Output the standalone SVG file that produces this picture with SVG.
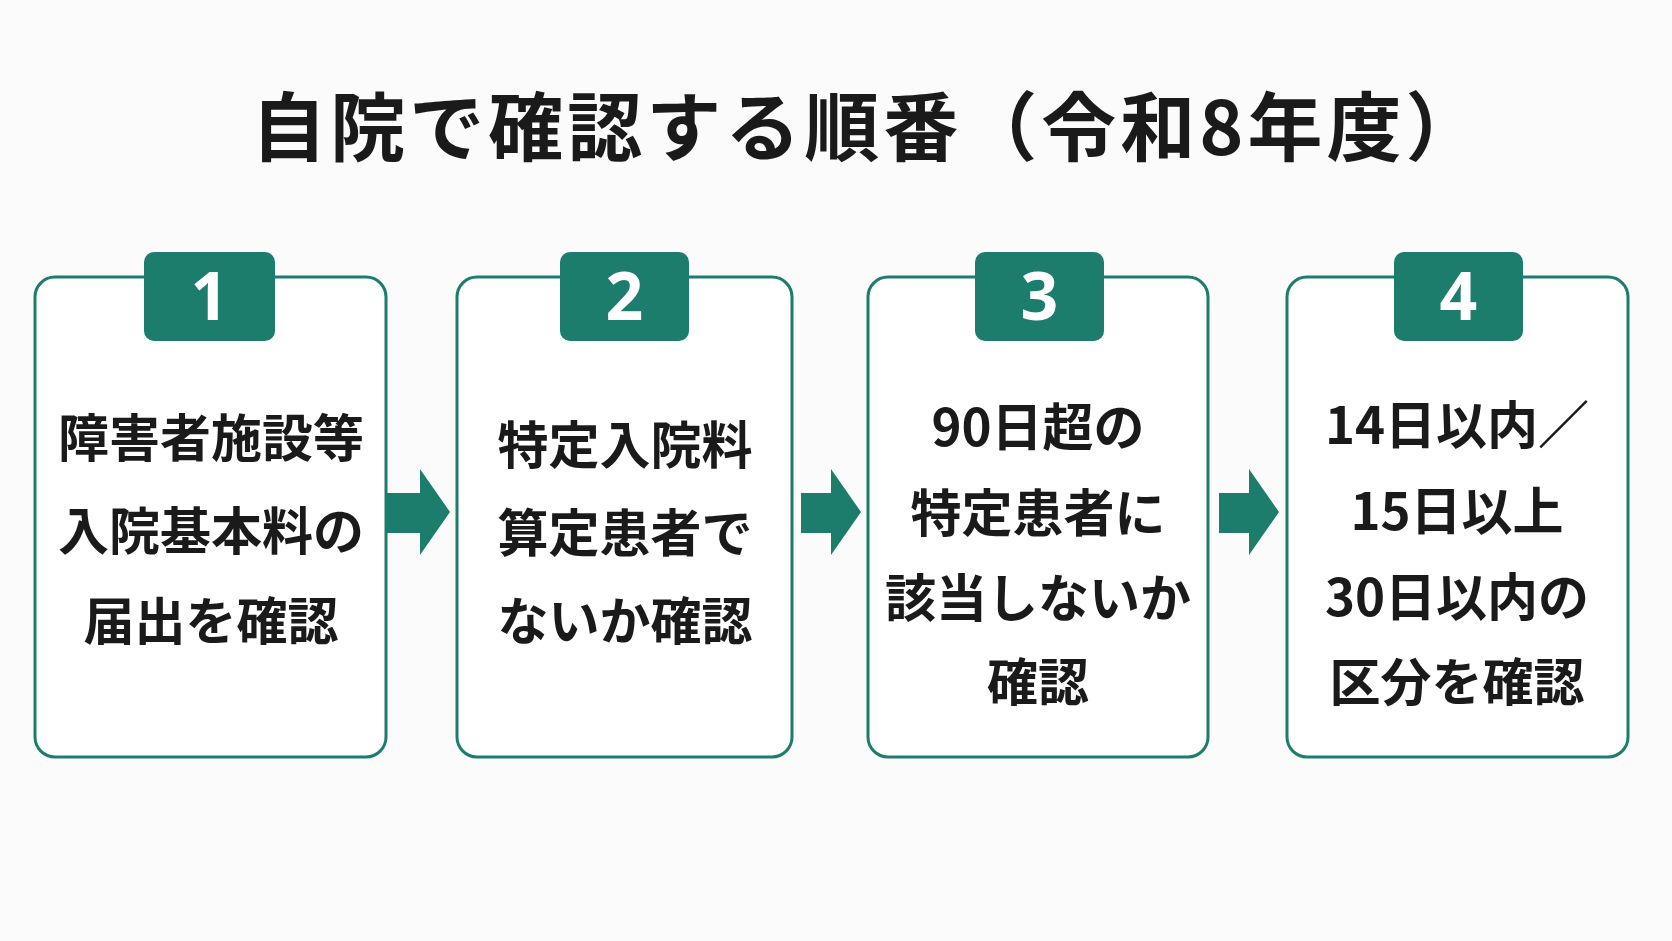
<svg xmlns="http://www.w3.org/2000/svg" width="1672" height="941" viewBox="0 0 1672 941">
<style>
.box{fill:#fff;stroke:#1c7d6c;stroke-width:3}
.badge{fill:#1c7d6c}
.num{fill:#fff;font-family:"Noto Sans","Noto Sans CJK JP",sans-serif;font-weight:700;font-size:66px;text-anchor:middle}
.t{fill:#1a1a1a;font-family:"Noto Sans CJK JP",sans-serif;font-weight:700;font-size:51px;text-anchor:middle;dominant-baseline:central}
.arr{fill:#1c7d6c}
</style>
<rect width="1672" height="941" fill="#fbfbfb"/>
<text x="868" y="155" font-family="Noto Sans CJK JP, sans-serif" font-weight="700" font-size="75" letter-spacing="4" text-anchor="middle" fill="#1a1a1a">自院で確認する順番（令和8年度）</text>
<g id="connectors">
<polygon class="arr" points="386,493 420,493 420,469 450,512 420,555 420,533 386,533"/>
<polygon class="arr" points="801,493 831,493 831,469 861,512 831,555 831,533 801,533"/>
<polygon class="arr" points="1219,493 1249,493 1249,469 1279,512 1249,555 1249,533 1219,533"/>
</g>
<g id="step1">
<rect class="box" x="35" y="277" width="351" height="480" rx="20"/>
<rect class="badge" x="144" y="252" width="131" height="89" rx="10"/>
<text class="num" x="209.5" y="320">1</text>
<text class="t" x="211" y="435">障害者施設等</text>
<text class="t" x="211" y="528">入院基本料の</text>
<text class="t" x="211" y="618">届出を確認</text>
</g>
<g id="step2">
<rect class="box" x="457" y="277" width="335" height="480" rx="20"/>
<rect class="badge" x="560" y="252" width="129" height="89" rx="10"/>
<text class="num" x="624.5" y="320">2</text>
<text class="t" x="625" y="442">特定入院料</text>
<text class="t" x="625" y="530">算定患者で</text>
<text class="t" x="625" y="618">ないか確認</text>
</g>
<g id="step3">
<rect class="box" x="868" y="277" width="340" height="480" rx="20"/>
<rect class="badge" x="975" y="252" width="129" height="89" rx="10"/>
<text class="num" x="1039.5" y="320">3</text>
<text class="t" x="1038" y="424">90日超の</text>
<text class="t" x="1038" y="510">特定患者に</text>
<text class="t" x="1038" y="595">該当しないか</text>
<text class="t" x="1038" y="679">確認</text>
</g>
<g id="step4">
<rect class="box" x="1287" y="277" width="341" height="480" rx="20"/>
<rect class="badge" x="1394" y="252" width="129" height="89" rx="10"/>
<text class="num" x="1458.5" y="320">4</text>
<text class="t" x="1457" y="422">14日以内／</text>
<text class="t" x="1457" y="508">15日以上</text>
<text class="t" x="1457" y="594">30日以内の</text>
<text class="t" x="1457" y="679">区分を確認</text>
</g>
</svg>
